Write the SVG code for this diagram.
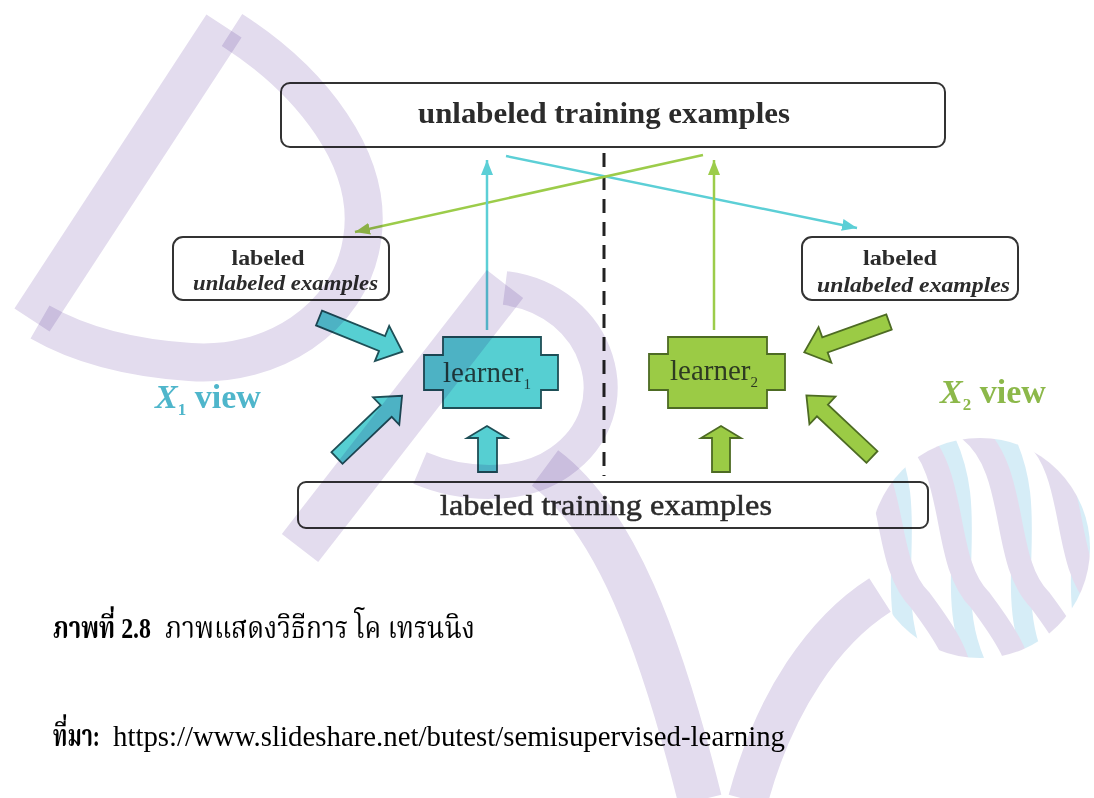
<svg xmlns="http://www.w3.org/2000/svg" width="1094" height="798" viewBox="0 0 1094 798">
<defs>
<style>
.box{fill:#fff;stroke:#333;stroke-width:2}
.t{font-family:"Liberation Serif","Times New Roman",serif;fill:#2b2b2b}
.b{font-weight:bold}
.cy{fill:#56cfd2;stroke:#1e4f57;stroke-width:1.8}
.gr{fill:#9bcb45;stroke:#4d6b23;stroke-width:1.8}
.lc{stroke:#5ccfd6;stroke-width:2.5;fill:none}
.lg{stroke:#9ccc4a;stroke-width:2.5;fill:none}
.th{font-family:"Liberation Serif","Noto Serif Thai","Noto Sans Thai","Garuda","Loma",serif;fill:#000}
.wm{fill:none;stroke:#e3dcee;mix-blend-mode:multiply}
</style>
<marker id="ac" markerUnits="userSpaceOnUse" markerWidth="16" markerHeight="12" refX="15" refY="6" orient="auto"><path d="M0,0 L15,6 L0,12 z" fill="#5ccfd6"/></marker>
<marker id="ag" markerUnits="userSpaceOnUse" markerWidth="16" markerHeight="12" refX="15" refY="6" orient="auto"><path d="M0,0 L15,6 L0,12 z" fill="#9ccc4a"/></marker>
<clipPath id="ball"><circle cx="980" cy="548" r="110"/></clipPath>
</defs>
<rect width="1094" height="798" fill="#fff"/>

<g id="unlabeled-top">
<rect class="box" x="281" y="83" width="664" height="64" rx="9"/>
<text class="t b" x="604" y="123" font-size="30" text-anchor="middle" textLength="372" lengthAdjust="spacingAndGlyphs">unlabeled training examples</text>
</g>

<g id="left-pool">
<rect class="box" x="173" y="237" width="216" height="63" rx="10"/>
<text class="t b" x="268" y="265" font-size="22" text-anchor="middle" textLength="73" lengthAdjust="spacingAndGlyphs">labeled</text>
<text class="t b" x="193" y="290" font-size="22" font-style="italic" textLength="185" lengthAdjust="spacingAndGlyphs">unlabeled examples</text>
</g>

<g id="right-pool">
<rect class="box" x="802" y="237" width="216" height="63" rx="10"/>
<text class="t b" x="900" y="265" font-size="22" text-anchor="middle" textLength="74" lengthAdjust="spacingAndGlyphs">labeled</text>
<text class="t b" x="817" y="292" font-size="22" font-style="italic" textLength="193" lengthAdjust="spacingAndGlyphs">unlabeled examples</text>
</g>

<g id="learner1">
<polygon class="cy" points="443,337 541,337 541,355 558,355 558,390 541,390 541,408 443,408 443,390 424,390 424,355 443,355"/>
<text class="t" x="443" y="382" font-size="29" style="fill:#1f3b3c">learner<tspan font-size="15" dy="7">1</tspan></text>
</g>

<g id="learner2">
<polygon class="gr" points="668,337 767,337 767,354 785,354 785,390 767,390 767,408 668,408 668,390 649,390 649,354 668,354"/>
<text class="t" x="670" y="380" font-size="29" style="fill:#2e3b22">learner<tspan font-size="15" dy="7">2</tspan></text>
</g>

<g id="x1-view">
<text class="t b" x="155" y="408" font-size="34" style="fill:#4fb6cb"><tspan font-style="italic">X</tspan><tspan font-size="17" dy="7">1</tspan><tspan dy="-7"> view</tspan></text>
</g>

<g id="x2-view">
<text class="t b" x="940" y="403" font-size="34" style="fill:#8cb84a"><tspan font-style="italic">X</tspan><tspan font-size="17" dy="7">2</tspan><tspan dy="-7"> view</tspan></text>
</g>

<g id="labeled-bottom">
<rect class="box" x="298" y="482" width="630" height="46" rx="8"/>
<text class="t" x="606" y="515" font-size="29" text-anchor="middle" stroke="#2b2b2b" stroke-width="0.5" textLength="332" lengthAdjust="spacingAndGlyphs">labeled training examples</text>
</g>

<g id="connectors">
<line x1="604" y1="153" x2="604" y2="476" stroke="#222" stroke-width="3" stroke-dasharray="14 9"/>
<line class="lc" x1="506" y1="156" x2="857" y2="228" marker-end="url(#ac)"/>
<line class="lg" x1="703" y1="155" x2="355" y2="232" marker-end="url(#ag)"/>
<line class="lc" x1="487" y1="330" x2="487" y2="160" marker-end="url(#ac)"/>
<line class="lg" x1="714" y1="330" x2="714" y2="160" marker-end="url(#ag)"/>
<polygon class="cy" transform="translate(319,318) rotate(22)" points="0,-8 68,-8 68,-19 90,0 68,19 68,8 0,8"/>
<polygon class="cy" transform="translate(337,458) rotate(-43.7)" points="0,-8 68,-8 68,-19 90,0 68,19 68,8 0,8"/>
<polygon class="gr" transform="translate(889,322) rotate(160.3)" points="0,-8 68,-8 68,-19 90,0 68,19 68,8 0,8"/>
<polygon class="gr" transform="translate(872,457) rotate(-136.8)" points="0,-8 68,-8 68,-19 90,0 68,19 68,8 0,8"/>
<polygon class="cy" points="478,472 497,472 497,438 507,438 487,426 467,438 478,438"/>
<polygon class="gr" points="712,472 730,472 730,438 741,438 721,426 701,438 712,438"/>
</g>

<g id="caption">
<text class="th" x="53" y="638" font-size="30" font-weight="bold" textLength="98" lengthAdjust="spacingAndGlyphs">ภาพที่ 2.8</text>
<text class="th" x="165" y="638" font-size="30" textLength="310" lengthAdjust="spacingAndGlyphs">ภาพแสดงวิธีการ โค เทรนนิง</text>
<text class="th" x="53" y="746" font-size="30" font-weight="bold" textLength="47" lengthAdjust="spacingAndGlyphs">ที่มา:</text>
<text class="th" x="113" y="746" font-size="29" textLength="672" lengthAdjust="spacingAndGlyphs">https://www.slideshare.net/butest/semisupervised-learning</text>
</g>

<g id="watermark">
<path class="wm" stroke-width="42" d="M224,26 L32,320"/>
<path class="wm" stroke-width="38" d="M232,30 C310,80 375,160 362,240 C350,320 270,368 190,362 C130,358 80,345 40,322"/>
<path class="wm" stroke-width="46" d="M505,284 L300,548"/>
<path class="wm" stroke-width="34" d="M505,288 C600,300 635,410 560,462 C520,490 460,485 420,468"/>
<path class="wm" stroke-width="44" d="M545,468 C615,520 660,640 700,800"/>
<path class="wm" stroke-width="40" d="M748,800 C775,700 825,630 880,595"/>
<g clip-path="url(#ball)" style="mix-blend-mode:multiply">
<path fill="none" stroke="#d6edf7" stroke-width="20" d="M880,430 C930,520 870,600 930,690 M940,430 C990,520 930,600 990,690 M1000,430 C1050,520 990,600 1050,690 M1060,430 C1110,520 1050,600 1110,690"/>
<path fill="none" stroke="#e3dcee" stroke-width="24" d="M850,440 C900,470 880,560 920,600 C950,640 960,660 960,680 M910,430 C960,470 940,560 980,600 C1010,640 1020,660 1020,680 M970,430 C1020,470 1000,560 1040,600 C1070,640 1080,660 1080,680 M1030,430 C1080,470 1060,560 1100,600"/>
</g>
</g>
</svg>
